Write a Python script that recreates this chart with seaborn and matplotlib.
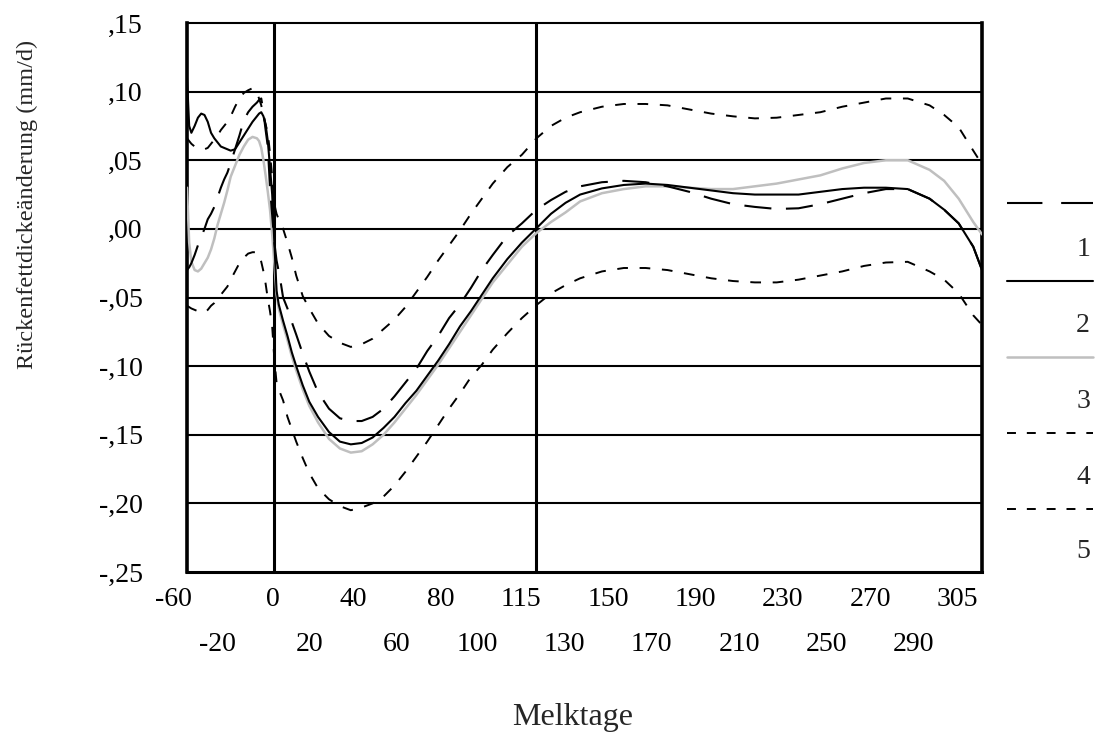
import numpy as np
import pandas as pd
import matplotlib
matplotlib.use("Agg")
import matplotlib.pyplot as plt
import seaborn as sns
from matplotlib.lines import Line2D
from matplotlib.transforms import ScaledTranslation

# ---------------- data ----------------
days = [-60, -58, -56, -53, -50, -47, -44, -41, -38, -35, -32, -29, -26, -23, -20,
        -18, -16, -14, -12, -10, -8, -7, -6, -5, -4, -3, -2, -1, 0,
        1, 2, 3, 4, 6, 8, 10, 13, 16, 20,
        25, 30, 35, 40, 45, 50, 55, 60, 65, 70, 75, 80, 85, 90, 95, 100, 105, 110, 115, 120, 125, 130,
        140, 150, 160, 170, 180, 190, 200, 210, 220, 230, 240, 250, 260, 270, 280, 290,
        295, 300, 305, 308]

series1 = [-0.030, -0.028, -0.025, -0.019, -0.012, -0.006, 0.000, 0.007, 0.011, 0.016, 0.023, 0.030, 0.036, 0.041, 0.048,
           0.058, 0.068, 0.079, 0.085, 0.089, 0.092, 0.094, 0.095, 0.085, 0.072, 0.060, 0.030, 0.010, -0.010,
           -0.023, -0.031, -0.040, -0.050, -0.058, -0.068, -0.077, -0.091, -0.104, -0.119,
           -0.131, -0.138, -0.140, -0.140, -0.137, -0.131, -0.122, -0.112, -0.102, -0.089, -0.078, -0.065, -0.055,
           -0.043, -0.030, -0.019, -0.005, 0.004, 0.014, 0.021, 0.027, 0.031,
           0.034, 0.035, 0.034, 0.031, 0.027, 0.022, 0.018, 0.016, 0.0145, 0.015, 0.018, 0.022, 0.026, 0.029, 0.029, 0.022,
           0.014, 0.004, -0.013, -0.030]

series2 = [0.110, 0.075, 0.070, 0.075, 0.081, 0.084, 0.083, 0.078, 0.070, 0.066, 0.063, 0.060, 0.059, 0.058, 0.057,
           0.058, 0.063, 0.068, 0.073, 0.078, 0.082, 0.084, 0.085, 0.082, 0.076, 0.064, 0.045, 0.025, -0.010,
           -0.045, -0.055, -0.061, -0.067, -0.078, -0.090, -0.100, -0.114, -0.126, -0.137,
           -0.148, -0.155, -0.157, -0.156, -0.152, -0.145, -0.137, -0.127, -0.118, -0.107, -0.096, -0.084, -0.071,
           -0.060, -0.048, -0.036, -0.022, -0.010, 0.0005, 0.011, 0.019, 0.025,
           0.0295, 0.032, 0.033, 0.032, 0.030, 0.028, 0.026, 0.025, 0.025, 0.025, 0.027, 0.029, 0.030, 0.030, 0.029, 0.022,
           0.014, 0.004, -0.013, -0.030]

series3 = [0.030, -0.010, -0.024, -0.030, -0.031, -0.029, -0.025, -0.021, -0.015, -0.007, 0.003, 0.011, 0.019, 0.028, 0.038,
           0.046, 0.054, 0.060, 0.065, 0.067, 0.066, 0.064, 0.059, 0.050, 0.039, 0.027, 0.014, -0.004, -0.025,
           -0.048, -0.058, -0.064, -0.070, -0.081, -0.093, -0.103, -0.117, -0.129, -0.141,
           -0.153, -0.160, -0.163, -0.162, -0.157, -0.150, -0.141, -0.131, -0.121, -0.110, -0.099, -0.087, -0.075,
           -0.063, -0.051, -0.039, -0.026, -0.013, -0.003, 0.005, 0.012, 0.020,
           0.026, 0.029, 0.031, 0.031, 0.030, 0.029, 0.029, 0.031, 0.033, 0.036, 0.039, 0.044, 0.048, 0.050, 0.050, 0.043,
           0.035, 0.022, 0.005, -0.004]

series4 = [0.066, 0.064, 0.062, 0.060, 0.059, 0.058, 0.058, 0.059, 0.062, 0.065, 0.068, 0.072, 0.075, 0.078, 0.082,
           0.089, 0.095, 0.099, 0.101, 0.1025, 0.099, 0.095, 0.090, 0.083, 0.076, 0.070, 0.055, 0.038, 0.018,
           0.011, 0.007, 0.004, 0.000, -0.010, -0.021, -0.034, -0.049, -0.058, -0.069,
           -0.078, -0.083, -0.086, -0.084, -0.080, -0.073, -0.066, -0.057, -0.046, -0.035, -0.023, -0.012, -0.001,
           0.011, 0.022, 0.033, 0.045, 0.054, 0.066, 0.075, 0.081, 0.085,
           0.089, 0.091, 0.091, 0.090, 0.087, 0.084, 0.082, 0.0805, 0.081, 0.083, 0.085, 0.089, 0.092, 0.095, 0.095, 0.090,
           0.083, 0.074, 0.057, 0.047]

series5 = [-0.056, -0.057, -0.058, -0.059, -0.060, -0.061, -0.061, -0.059, -0.056, -0.054, -0.051, -0.048, -0.045, -0.042, -0.037,
           -0.031, -0.025, -0.021, -0.018, -0.017, -0.017, -0.019, -0.024, -0.031, -0.040, -0.051, -0.060, -0.071, -0.095,
           -0.112, -0.117, -0.121, -0.125, -0.137, -0.146, -0.155, -0.167, -0.178, -0.189,
           -0.197, -0.202, -0.205, -0.203, -0.200, -0.195, -0.187, -0.177, -0.166, -0.155, -0.143, -0.131, -0.120,
           -0.108, -0.099, -0.088, -0.076, -0.065, -0.0555, -0.047, -0.041, -0.036,
           -0.031, -0.0285, -0.0285, -0.030, -0.033, -0.036, -0.038, -0.039, -0.039, -0.037, -0.034, -0.031, -0.027, -0.0245, -0.024, -0.031,
           -0.037, -0.047, -0.063, -0.070]

series_names = ["1", "2", "3", "4", "5"]
tick_days = [-60, -20, 0, 20, 40, 60, 80, 100, 115, 130, 150, 170, 190, 210, 230, 250, 270, 290, 305]
tick_labels = [str(d) for d in tick_days]
y_ticks = [-0.25, -0.20, -0.15, -0.10, -0.05, 0.00, 0.05, 0.10, 0.15]
marker_days = [0, 115]

# ---------------- style ----------------
sns.set_theme(style="white")
plt.rcParams['font.family'] = ['Liberation Serif', 'DejaVu Serif']

W, H = 1097, 737
fig = plt.figure(figsize=(W / 100, H / 100), dpi=100)
ax = fig.add_axes([187 / W, 1 - 572 / H, (982 - 187) / W, (572 - 23) / H])

idx = np.arange(len(tick_days))


def day_to_pos(d):
    d = np.asarray(d, dtype=float)
    p = np.interp(d, tick_days, idx)
    slope_end = 1.0 / (tick_days[-1] - tick_days[-2])
    return np.where(d > tick_days[-1], idx[-1] + (d - tick_days[-1]) * slope_end, p)


pos = day_to_pos(days)
df = pd.DataFrame({"pos": pos, "1": series1, "2": series2, "3": series3,
                   "4": series4, "5": series5})
long_df = df.melt(id_vars="pos", var_name="series", value_name="value")

styles = {
    "1": dict(color="black", lw=1.5, dashes=(13, 7)),
    "2": dict(color="black", lw=1.5, dashes=None),
    "3": dict(color="#bfbfbf", lw=1.8, dashes=None),
    "4": dict(color="black", lw=1.4, dashes=(5.5, 6)),
    "5": dict(color="black", lw=1.4, dashes=(5.5, 6)),
}

# grid lines & marker lines
for yv in y_ticks[1:-1]:
    ax.axhline(yv, color="black", lw=1.5, zorder=1)
for md in marker_days:
    ax.axvline(float(day_to_pos(md)), color="black", lw=2.2, zorder=1)

for name in ["5", "4", "3", "1", "2"]:
    st = styles[name]
    sub = long_df[long_df["series"] == name]
    n_before = len(ax.lines)
    sns.lineplot(data=sub, x="pos", y="value", color=st["color"], lw=st["lw"],
                 estimator=None, sort=False, legend=False, ax=ax, zorder=3)
    line = ax.lines[n_before]
    if st["dashes"] is not None:
        line.set_dashes(st["dashes"])

ax.set_xlim(0, float(day_to_pos(308)))
ax.set_ylim(-0.25, 0.15)

# spines
for side, lw in [("left", 2.6), ("bottom", 2.2), ("top", 1.5), ("right", 2.6)]:
    ax.spines[side].set_visible(True)
    ax.spines[side].set_color("black")
    ax.spines[side].set_linewidth(lw)

# y ticks
ax.set_yticks(y_ticks)


def fmt(v):
    s = f"{v:.2f}"
    s = s.replace("0.", ",")
    if s == "-,00":
        s = ",00"
    return s


FS = 20
ax.set_yticklabels([fmt(v) for v in y_ticks], fontsize=FS)
ax.tick_params(axis="y", direction="out", length=3, width=2.5, pad=29, colors="black")

# x ticks in two rows
ax.set_xticks(idx[::2])
ax.set_xticklabels(tick_labels[::2], fontsize=FS)
ax.set_xticks(idx[1::2], minor=True)
ax.set_xticklabels(tick_labels[1::2], minor=True, fontsize=FS)
ax.tick_params(axis="x", which="major", direction="out", length=3, width=2.5, pad=7.5, colors="black")
ax.tick_params(axis="x", which="minor", direction="out", length=3, width=2.5, pad=40, colors="black")
shift = ScaledTranslation(5 / 100, 0, fig.dpi_scale_trans)
for lab in ax.get_xticklabels(which="both"):
    lab.set_horizontalalignment("right")
    lab.set_transform(lab.get_transform() + shift)

ax.set_xlabel("")
ax.set_ylabel("")
ax.grid(False)

fig.text(27 / W, 1 - 204 / H, "Rückenfettdickeänderung (mm/d)", rotation=90,
         ha="center", va="center", fontsize=17.5)
fig.text(573 / W, 1 - 718 / H, "Melktage", ha="center", va="center", fontsize=23)

# legend, drawn as in the reference
leg_line_y = [203, 281, 357, 433, 509]
leg_text_y = [250, 326, 401, 477, 552]
leg_dashes = {"1": (17, 9), "2": None, "3": None, "4": (4.6, 5.6), "5": (4.6, 5.6)}
for name, ly, ty in zip(series_names, leg_line_y, leg_text_y):
    st = styles[name]
    ln = Line2D([1007 / W, 1093 / W], [1 - ly / H, 1 - ly / H], transform=fig.transFigure,
                color=st["color"], lw=st["lw"])
    if leg_dashes[name] is not None:
        ln.set_dashes(leg_dashes[name])
    fig.add_artist(ln)
    fig.text(1090 / W, 1 - ty / H, name, ha="right", va="center", fontsize=FS)

fig.savefig("out.png", dpi=100)
